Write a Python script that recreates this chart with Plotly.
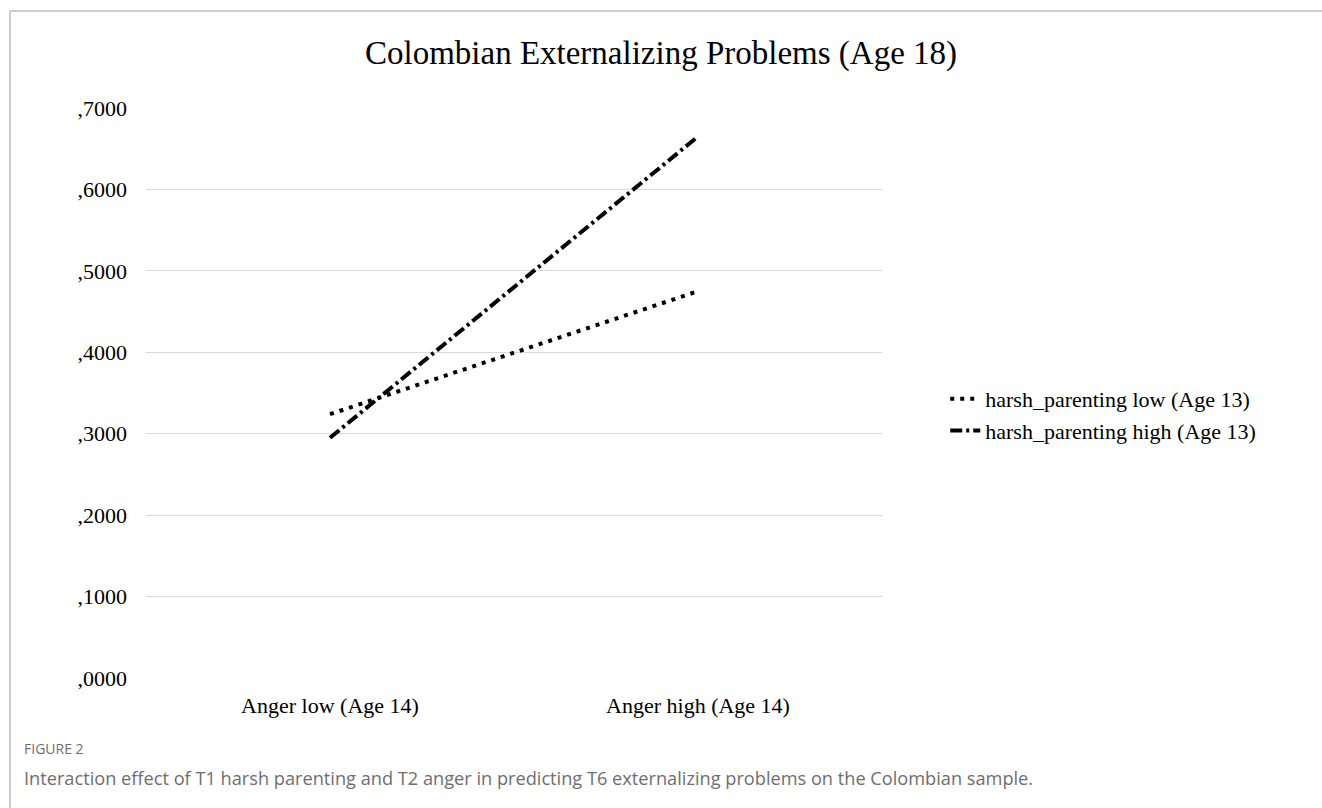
import plotly.graph_objects as go

categories = ["Anger low (Age 14)", "Anger high (Age 14)"]
low_values = [0.324, 0.475]
high_values = [0.295, 0.665]
series_names = ["harsh_parenting low (Age 13)", "harsh_parenting high (Age 13)"]
tick_vals = [0.0, 0.1, 0.2, 0.3, 0.4, 0.5, 0.6, 0.7]
tick_text = [",0000", ",1000", ",2000", ",3000", ",4000", ",5000", ",6000", ",7000"]

serif = "Liberation Serif, Times New Roman, serif"
sans = "Open Sans, sans-serif"

fig = go.Figure()
fig.add_trace(go.Scatter(
    x=categories, y=low_values, name=series_names[0], mode="lines",
    line=dict(color="black", width=4, dash="4px,6px"),
))
fig.add_trace(go.Scatter(
    x=categories, y=high_values, name=series_names[1], mode="lines",
    line=dict(color="black", width=4, dash="12px,4px,3px,4px"),
))

fig.update_layout(
    width=1322, height=808,
    margin=dict(l=146, r=440, t=108, b=130),
    paper_bgcolor="white", plot_bgcolor="white",
    title=dict(text="Colombian Externalizing Problems (Age 18)",
               font=dict(family=serif, size=33, color="black"),
               x=0.5, xref="container", xanchor="center",
               y=1 - 52 / 808, yref="container", yanchor="middle"),
    font=dict(family=serif, size=22, color="black"),
    xaxis=dict(range=[-0.5, 1.5], showgrid=False, zeroline=False, showline=False,
               ticks="", tickfont=dict(family=serif, size=22, color="black"),
               ticklabelstandoff=12),
    yaxis=dict(range=[0, 0.7], tickvals=tick_vals, ticktext=tick_text,
               showgrid=True, gridcolor="#d9d9d9", gridwidth=1,
               zeroline=False, showline=False, ticks="",
               tickfont=dict(family=serif, size=22, color="black"),
               ticklabelstandoff=18),
    legend=dict(xref="container", yref="container", x=0.715, y=1 - 415 / 808,
                xanchor="left", yanchor="middle",
                font=dict(family=serif, size=22, color="black"),
                bgcolor="rgba(0,0,0,0)", tracegroupgap=2),
    showlegend=True,
)

# frame lines (top and left)
fig.add_shape(type="line", xref="paper", yref="paper",
              x0=(10 - 146) / 736, x1=(1322 - 146) / 736,
              y0=(808 - 130 - 11) / 570, y1=(808 - 130 - 11) / 570,
              line=dict(color="#cccccc", width=2))
fig.add_shape(type="line", xref="paper", yref="paper",
              x0=(10 - 146) / 736, x1=(10 - 146) / 736,
              y0=(808 - 130 - 808) / 570, y1=(808 - 130 - 11) / 570,
              line=dict(color="#cccccc", width=2))

fig.add_annotation(text="FIGURE 2", xref="paper", yref="paper",
                   x=(22 - 146) / 736, y=(678 - 748) / 570,
                   xanchor="left", yanchor="middle", showarrow=False,
                   font=dict(family=sans, size=14, color="#6e6e6e"))
fig.add_annotation(text="Interaction effect of T1 harsh parenting and T2 anger in predicting T6 externalizing problems on the Colombian sample.",
                   xref="paper", yref="paper",
                   x=(22 - 146) / 736, y=(678 - 778) / 570,
                   xanchor="left", yanchor="middle", showarrow=False,
                   font=dict(family=sans, size=18.2, color="#6e6e6e"))

fig.write_html("out.html", config={"displayModeBar": False},
               post_script="document.body.style.margin='0';document.body.style.padding='0';")
